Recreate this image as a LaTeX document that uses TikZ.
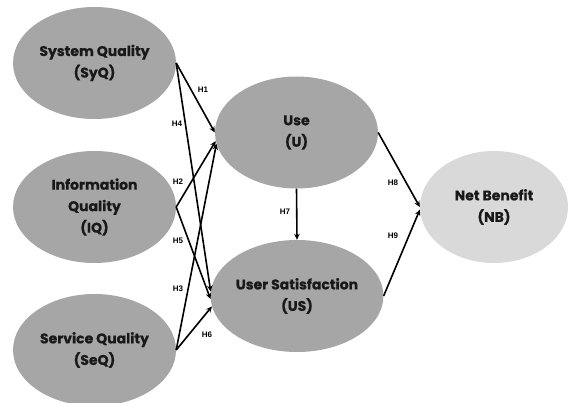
\documentclass[tikz,border=0pt]{standalone}
\usepackage{fontspec}
\setmainfont{Poppins}[BoldFeatures={FakeBold=0.6}]
\newfontfamily\labfont{Liberation Sans}
\usetikzlibrary{shapes.geometric,arrows.meta}
\definecolor{boxgray}{HTML}{A6A6A6}
\definecolor{lightgray2}{HTML}{D9D9D9}
\begin{document}
\begin{tikzpicture}[x=1pt,y=-1pt,
  construct/.style={ellipse,fill=boxgray,draw=none,minimum width=163pt,minimum height=112pt,inner sep=0pt,align=center,font=\fontsize{14}{21.5}\selectfont\bfseries,text=black!90},
  hyp/.style={-{Stealth[length=6pt,width=5.5pt,inset=2pt]},line width=1.6pt,black},
  hlab/.style={font=\labfont\fontsize{8}{9}\selectfont\bfseries,inner sep=0pt}]
\useasboundingbox (0,0) rectangle (569,403);
\node[construct] (syq) at (94.5,63) {System Quality\\(SyQ)};
\node[construct] (iq) at (94.5,207) {Information\\Quality\\(IQ)};
\node[construct] (seq) at (94.5,350) {Service Quality\\(SeQ)};
\node[construct] (u) at (296.5,132.5) {Use\\(U)};
\node[construct] (us) at (297,296) {User Satisfaction\\(US)};
\node[construct,fill=lightgray2,minimum width=148pt] (nb) at (494,207) {Net Benefit\\(NB)};
\draw[hyp] (syq.east) -- (u.180);
\draw[hyp] (syq.east) -- (us.177);
\draw[hyp] (iq.east) -- (u.186);
\draw[hyp] (iq.east) -- (us.182);
\draw[hyp] (seq.east) -- (u.188);
\draw[hyp] (seq.east) -- (us.187);
\draw[hyp] (u.south) -- (us.north);
\draw[hyp] (u.east) -- (nb.180);
\draw[hyp] (us.east) -- (nb.182);
\node[hlab] (l1) at (203,90) {H1};
\node[hlab] (l4) at (177,124) {H4};
\node[hlab] (l2) at (178,182) {H2};
\node[hlab] (l5) at (178,241) {H5};
\node[hlab] (l3) at (178,289) {H3};
\node[hlab] (l6) at (207,335) {H6};
\node[hlab] (l7) at (285,212) {H7};
\node[hlab] (l8) at (393,183) {H8};
\node[hlab] (l9) at (393,236) {H9};
\end{tikzpicture}
\end{document}
